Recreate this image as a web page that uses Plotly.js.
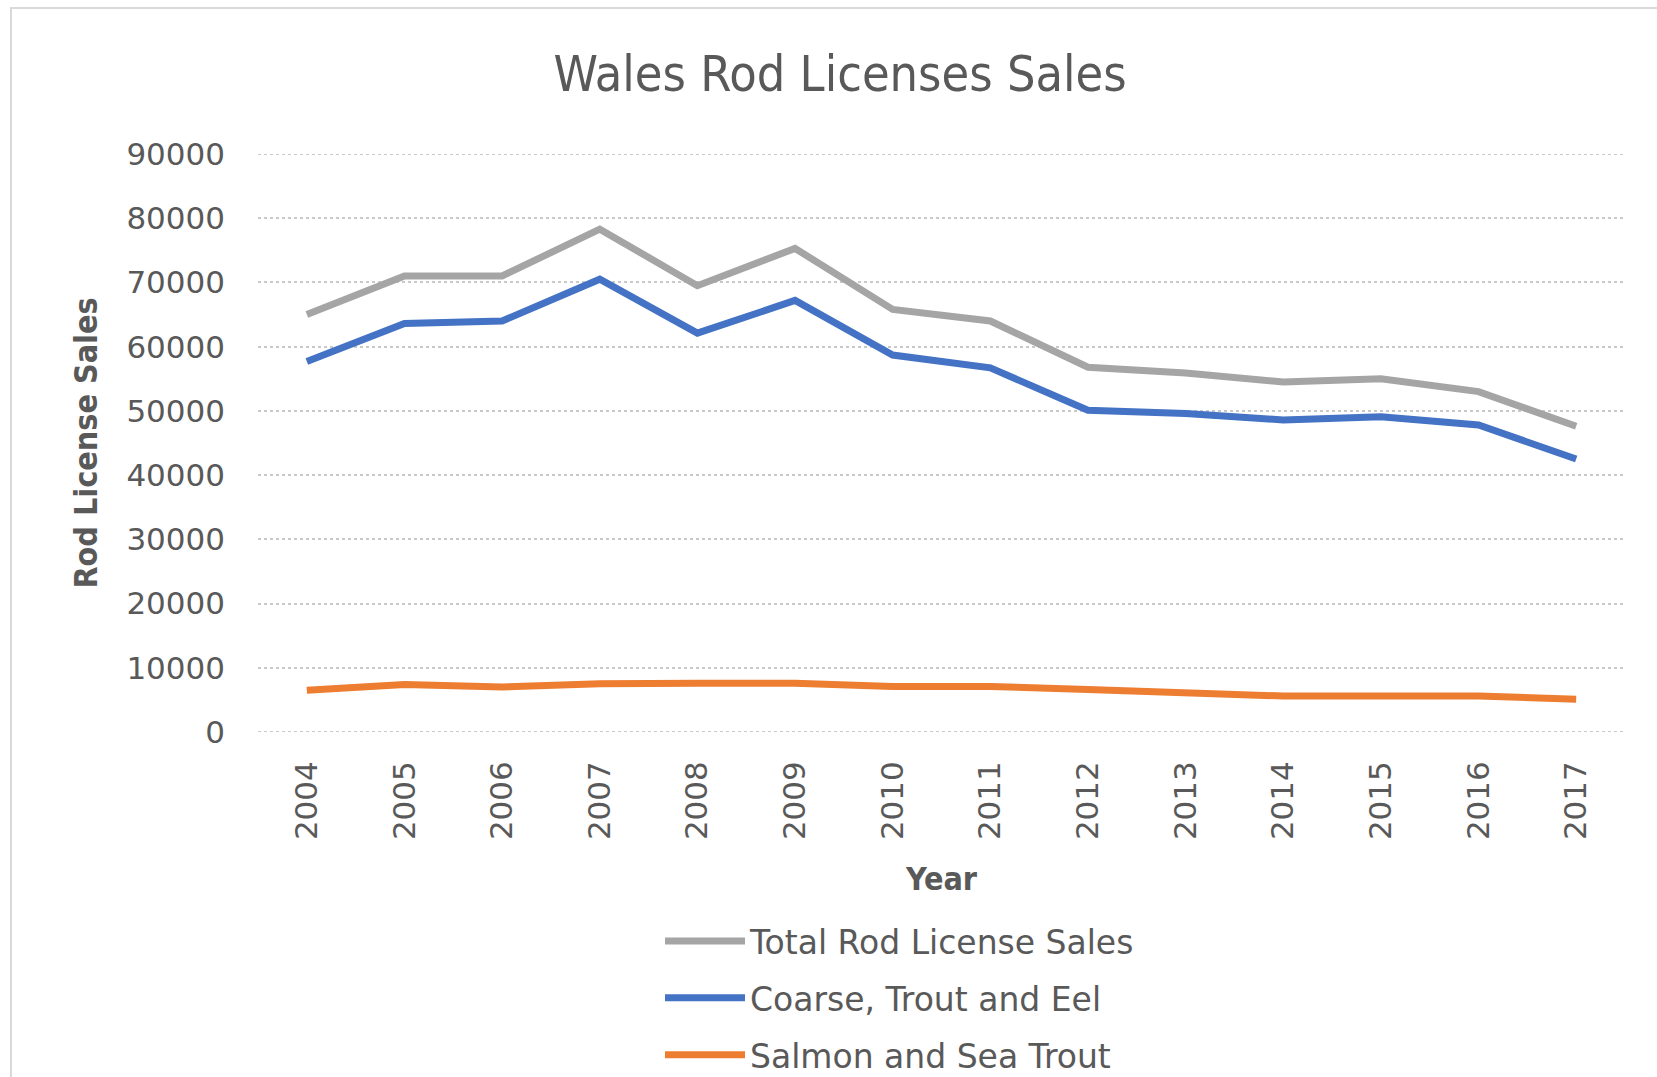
<!DOCTYPE html>
<html>
<head>
<meta charset="utf-8">
<script src="https://cdn.plot.ly/plotly-3.0.1.min.js"></script>
<style>html,body{margin:0;padding:0;background:#fff;}#chart{width:1657px;height:1077px;}</style>
</head>
<body>
<div id="chart"></div>
<script>
const years = ["2004","2005","2006","2007","2008","2009","2010","2011","2012","2013","2014","2015","2016","2017"];
const totalSales = [65000,71000,71000,78300,69500,75300,65800,64000,56800,55900,54500,55000,53000,47600];
const coarseTroutEel = [57700,63600,64000,70500,62100,67200,58700,56700,50100,49600,48600,49100,47800,42500];
const salmonSeaTrout = [6500,7400,7000,7500,7600,7600,7100,7100,6600,6100,5600,5600,5600,5100];
const yTicks = [0,10000,20000,30000,40000,50000,60000,70000,80000,90000];

const narrow = "DejaVu Sans Condensed, DejaVu Sans, sans-serif";
const txt = "#595959";

const traces = [
  {x: years, y: totalSales, name: "Total Rod License Sales", type: "scatter", mode: "lines",
   line: {color: "#A5A5A5", width: 7}, legendgroup: "a"},
  {x: years, y: coarseTroutEel, name: "Coarse, Trout and Eel", type: "scatter", mode: "lines",
   line: {color: "#4472C4", width: 7}, legendgroup: "b"},
  {x: years, y: salmonSeaTrout, name: "Salmon and Sea Trout", type: "scatter", mode: "lines",
   line: {color: "#ED7D31", width: 7}, legendgroup: "c"}
];

const L = 258, R = 32, T = 154, B = 345;
const pw = 1657 - L - R, ph = 1077 - T - B;
const px = v => (v - L) / pw;
const py = v => (1077 - B - v) / ph;

const gridShapes = [yTicks[0], yTicks[yTicks.length - 1]].map(v => ({
  type: "line", xref: "paper", yref: "y", x0: 0, x1: 1, y0: v, y1: v, layer: "below",
  line: {color: "#c9c9c9", width: 2, dash: "dot"}
}));

const layout = {
  width: 1657, height: 1077,
  margin: {l: L, r: R, t: T, b: B, pad: 0, autoexpand: false},
  paper_bgcolor: "#fff", plot_bgcolor: "#fff",
  showlegend: true,
  title: {text: "Wales Rod Licenses Sales", font: {family: narrow, size: 50, color: txt},
          x: 0.507, xref: "container", y: 1 - 73/1077, yref: "container", yanchor: "middle"},
  xaxis: {type: "category", range: [-0.5, 13.5], tickangle: -90, ticks: "", showgrid: false,
          zeroline: false, showline: false, tickfont: {family: "DejaVu Sans", size: 31, color: txt},
          ticklabelstandoff: 22,
          title: {text: "Year", font: {family: narrow, size: 32, color: txt, weight: "bold"}, standoff: 28},
          automargin: false},
  yaxis: {range: [0, 90000], tickvals: yTicks, ticktext: yTicks.map(String), ticks: "",
          showgrid: true, gridcolor: "#c9c9c9", gridwidth: 2, griddash: "dot",
          zeroline: false, showline: false,
          tickfont: {family: "DejaVu Sans", size: 31, color: txt}, ticklabelstandoff: 32,
          title: {text: "Rod License Sales", font: {family: narrow, size: 32, color: txt, weight: "bold"}, standoff: 19},
          automargin: false},
  legend: {orientation: "v", x: px(660), xanchor: "left", y: py(913), yanchor: "top",
           font: {family: "DejaVu Sans", size: 33, color: txt}, itemwidth: 80,
           traceorder: "grouped", tracegroupgap: 11, bgcolor: "rgba(0,0,0,0)"},
  shapes: [
    {type: "line", xref: "paper", yref: "paper", x0: px(10), x1: px(1657), y0: py(8), y1: py(8),
     line: {color: "#d9d9d9", width: 2}},
    {type: "line", xref: "paper", yref: "paper", x0: px(11), x1: px(11), y0: py(8), y1: py(1077),
     line: {color: "#d9d9d9", width: 2}}
  ].concat(gridShapes)
};

Plotly.newPlot("chart", traces, layout, {displayModeBar: false, staticPlot: true});
</script>
</body>
</html>
